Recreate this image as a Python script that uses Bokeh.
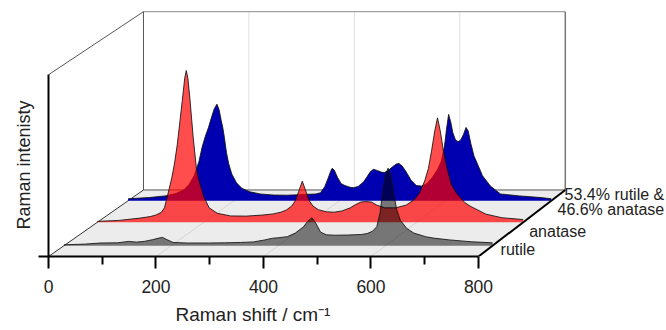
import numpy as np
from bokeh.plotting import figure
from bokeh.models import Range1d, FixedTicker, Title, Label
from bokeh.embed import file_html
from bokeh.resources import INLINE

# ---------------- data ----------------
rutile_shift = [0, 40, 68, 100, 121, 135, 150, 165, 177, 184, 192, 204, 230, 270, 300, 330, 354, 375,
                389, 400, 417, 432, 447, 455, 463, 470, 479, 490, 505, 530, 555, 566, 576, 584, 590,
                595, 600, 605, 610, 615, 621, 628, 640, 653, 675, 690, 720, 760, 800]
rutile_int = [0.5, 0.9, 1.5, 1.6, 2.4, 2.0, 2.4, 3.3, 4.2, 4.6, 3.4, 1.8, 1.5, 1.5, 1.6, 1.8, 2.1, 3.2,
              4.1, 4.4, 5.0, 7.0, 10.4, 13.5, 15.4, 12.5, 7.5, 6.0, 5.8, 5.9, 6.2, 6.7, 8.0, 10.5, 18,
              30, 39, 42.8, 39, 30, 20, 14, 9.5, 7.0, 5.0, 4.2, 3.2, 2.2, 1.6]

anatase_shift = [0, 40, 80, 100, 110, 120, 126, 132, 140, 145, 150, 155, 160, 164, 167, 170, 174, 180,
                 186, 190, 200, 210, 225, 250, 280, 310, 330, 345, 355, 365, 372, 378, 385, 392, 398,
                 405, 415, 430, 445, 460, 475, 485, 495, 505, 515, 525, 540, 560, 580, 595, 605, 615,
                 622, 628, 634, 639, 644, 650, 656, 665, 675, 690, 700, 710, 730, 760, 800]
anatase_int = [0.5, 1.0, 2.3, 3.2, 4.0, 5.5, 8.0, 15.0, 25, 33, 43, 56, 69, 80, 84.3, 80, 68, 47,
               30, 24, 14, 8, 5, 3.5, 3.4, 4.0, 4.6, 5.6, 6.8, 9, 12, 17, 22.8, 17, 12,
               9, 7, 5.8, 5.6, 6.3, 8, 9.8, 11.2, 11.5, 11.2, 9.5, 8, 8, 9.5, 12.5, 16, 23,
               30, 40, 51, 58, 51, 40, 31, 21, 16, 11, 9, 7.5, 4.5, 2.5, 1.5]

mixed_shift = [0, 40, 70, 90, 105, 115, 125, 134, 140, 146, 152, 158, 163, 168, 172, 176, 179, 182,
               186, 190, 196, 205, 215, 230, 250, 275, 300, 320, 340, 355, 364, 372, 378, 383, 386,
               390, 396, 403, 410, 420, 426, 435, 445, 452, 458, 464, 472, 480, 485, 492, 500, 507,
               512, 518, 525, 535, 545, 555, 565, 575, 585, 592, 598, 602, 606, 610, 614, 619, 624,
               629, 634, 639, 643, 648, 654, 660, 670, 685, 704, 740, 780, 800]
mixed_int = [1.1, 1.8, 2.7, 4, 6, 9, 14, 22, 30, 36, 41, 47, 51.5, 54, 51, 45, 41, 35.5,
             27, 21, 15, 10, 7, 5, 3.8, 3.2, 3.1, 3.3, 3.6, 3.8, 4.5, 8, 12.5, 16.5, 18.2,
             17, 13, 9.5, 8.5, 7.5, 7.3, 8, 10.5, 13.5, 16.2, 17.6, 16.8, 15.9, 15.8, 17, 19, 20.5,
             20.9, 19.5, 16.5, 11.5, 8.5, 8.2, 9.5, 13, 17.5, 22, 30, 40, 48.3, 44, 38, 34, 33,
             34, 37, 41, 39, 32, 25, 21, 14, 8.2, 3.8, 2.7, 1.8, 1.1]

series_labels = ["rutile", "anatase", "53.4% rutile &\n46.6% anatase"]
x_ticks = [0, 200, 400, 600, 800]
x_minor_ticks = [100, 300, 500, 700]
x_max = 800
i_max = 100

# ---------------- 3D waterfall projection ----------------
DEPTH_DX = 176.7   # shift of the back plane, in x-data units
DEPTH_DY = 36.6    # shift of the back plane, in intensity units
SHRINK = 0.019     # perspective shrink at the back
series_depth = [0.162, 0.515, 0.838]


def project(xs, d, ys):
    s = 1 - SHRINK * d
    return [x * s + d * DEPTH_DX for x in xs], [y * s + d * DEPTH_DY for y in ys]


FONT = "Liberation Sans"
TXT = "#222222"

p = figure(width=666, height=330, output_backend="svg", toolbar_location=None,
           x_range=Range1d(0, 1149.8), y_range=Range1d(0, 140.86),
           min_border_left=48, min_border_right=0, min_border_top=0, min_border_bottom=68)
p.outline_line_color = None
p.xgrid.visible = False
p.ygrid.visible = False

# back wall
bx, by = project([0, x_max, x_max, 0], 1.0, [0, 0, i_max, i_max])
p.patch(bx, by, fill_color="white", line_color=None)
for t in x_ticks[1:-1]:
    gx, gy = project([t, t], 1.0, [0, i_max])
    p.line(gx, gy, line_color="#e0e0e0", line_width=1)

# floor
fx = [project([0], 0, [0])[0][0], project([x_max], 0, [0])[0][0],
      project([x_max], 1, [0])[0][0], project([0], 1, [0])[0][0]]
fy = [0, 0, DEPTH_DY, DEPTH_DY]
p.patch(fx, fy, fill_color="#ececec", line_color=None)
for t in x_ticks[1:-1]:
    a = project([t], 0, [0])
    b = project([t], 1, [0])
    p.line([a[0][0], b[0][0]], [a[1][0], b[1][0]], line_color="#d4d4d4", line_width=1)

# frame lines of the box
lx, ly = project([0, x_max], 1.0, [i_max, i_max])
p.line(lx, ly, line_color="#8a8a8a", line_width=1)
lx, ly = project([0, x_max], 1.0, [0, 0])
p.line(lx, ly, line_color="#555555", line_width=1)
lx, ly = project([0, 0], 1.0, [0, i_max])
p.line(lx, ly, line_color="#555555", line_width=1)
lx, ly = project([x_max, x_max], 1.0, [0, i_max])
p.line(lx, ly, line_color="#777777", line_width=1.5)
a = project([0], 0, [i_max]); b = project([0], 1, [i_max])
p.line([a[0][0], b[0][0]], [a[1][0], b[1][0]], line_color="#555555", line_width=1)
a = project([0], 0, [0]); b = project([0], 1, [0])
p.line([a[0][0], b[0][0]], [a[1][0], b[1][0]], line_color="#333333", line_width=1)

# spectra, back to front
specs = [(mixed_shift, mixed_int, series_depth[2], "#0000b0", 1.0),
         (anatase_shift, anatase_int, series_depth[1], "#ff0000", 0.7),
         (rutile_shift, rutile_int, series_depth[0], "#000000", 0.5)]
for xs, ys, d, col, alpha in specs:
    px, py = project(list(xs) + [xs[-1], xs[0]], d, list(ys) + [0, 0])
    p.patch(px, py, fill_color=col, fill_alpha=alpha, line_color=None)
    cx, cy = project(xs, d, ys)
    p.line(cx, cy, line_color="#111111", line_width=1, line_alpha=0.85)

# right floor edge (thick)
a = project([x_max], 0, [0]); b = project([x_max], 1, [0])
p.line([a[0][0], b[0][0]], [a[1][0], b[1][0]], line_color="black", line_width=2)

# series names (annotations, placed next to the right floor edge)
label_offsets = [[(8, -3.5, "left")], [(6, -9, "left")], [(113, 6, "right"), (113, -9, "right")]]
for name, d, offs in zip(series_labels, series_depth, label_offsets):
    q = project([x_max], d, [0])
    for line_text, (dx, dy, al) in zip(name.split("\n"), offs):
        p.add_layout(Label(x=q[0][0], y=q[1][0], x_offset=dx, y_offset=dy, text=line_text,
                           text_font=FONT, text_font_size="16px", text_color=TXT,
                           text_align=al, text_baseline="alphabetic"))

# axes
xa = p.xaxis[0]
xa.bounds = (0, x_max)
xa.ticker = FixedTicker(ticks=x_ticks, minor_ticks=x_minor_ticks)
xa.axis_line_width = 2
xa.axis_line_color = "black"
xa.major_tick_out = 12
xa.major_tick_in = 0
xa.major_tick_line_width = 2
xa.minor_tick_out = 8
xa.minor_tick_in = 0
xa.minor_tick_line_width = 2
xa.major_label_text_font = FONT
xa.major_label_text_font_size = "17.5px"
xa.major_label_text_color = TXT
xa.major_label_standoff = 11

ya = p.yaxis[0]
ya.bounds = (0, i_max)
ya.ticker = FixedTicker(ticks=[0], minor_ticks=[])
ya.axis_line_width = 2
ya.axis_line_color = "black"
ya.major_tick_out = 10
ya.major_tick_in = 0
ya.major_tick_line_width = 2
ya.major_label_overrides = {0: ""}
ya.major_label_standoff = 0

p.add_layout(Title(text="Raman shift / cm\u207b\u00b9", align="left", offset=127,
                   text_font=FONT, text_font_size="19px", text_font_style="normal",
                   text_color=TXT, standoff=12), "below")
p.add_layout(Title(text="Raman intenisty", align="left", offset=27,
                   text_font=FONT, text_font_size="18px", text_font_style="normal",
                   text_color=TXT, standoff=10), "left")

open("out.html", "w").write(file_html(p, INLINE))
